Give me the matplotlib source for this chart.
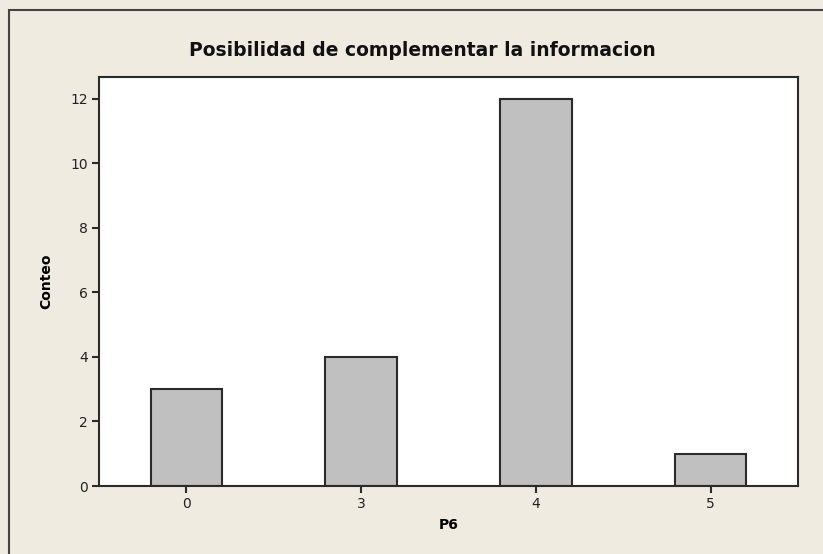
import matplotlib
matplotlib.use("Agg")
import matplotlib.pyplot as plt
from matplotlib.patches import Rectangle

# datos
categorias = ["0", "3", "4", "5"]
conteos = [3, 4, 12, 1]
y_ticks = [0, 2, 4, 6, 8, 10, 12]

fondo = "#EFEBE1"
gris_barra = "#C0C0C0"
borde = "#2B2B2B"

fig = plt.figure(figsize=(8.23, 5.54), dpi=100)
fig.patch.set_facecolor(fondo)

# marco exterior (se sale por la derecha y por abajo)
fig.patches.append(Rectangle((9 / 823, -0.05), 1.0, 1 - 10 / 554 + 0.05,
                             transform=fig.transFigure, fill=False,
                             edgecolor="#444444", linewidth=1.5))

ax = fig.add_axes([99 / 823, (554 - 486) / 554, 699 / 823, 409 / 554])
ax.set_facecolor("white")

pos = range(len(categorias))
ax.bar(pos, conteos, width=0.41, color=gris_barra, edgecolor=borde, linewidth=1.5)

ax.set_xlim(-0.5, 3.5)
ax.set_ylim(0, 12.68)
ax.set_xticks(list(pos))
ax.set_xticklabels(categorias)
ax.set_yticks(y_ticks)

for s in ax.spines.values():
    s.set_color(borde)
    s.set_linewidth(1.5)

ax.tick_params(direction="out", length=5, width=1.5, color=borde,
               labelsize=10, labelcolor="#222222", pad=3)

ax.set_xlabel("P6", fontsize=10, fontweight="bold", labelpad=5)
ax.set_ylabel("Conteo", fontsize=10, fontweight="bold", labelpad=12)

fig.text(422 / 823, 1 - 50 / 554, "Posibilidad de complementar la informacion",
         ha="center", va="center", fontsize=13.5, fontweight="bold", color="#111111")

fig.savefig("out.png", dpi=100, facecolor=fondo)
